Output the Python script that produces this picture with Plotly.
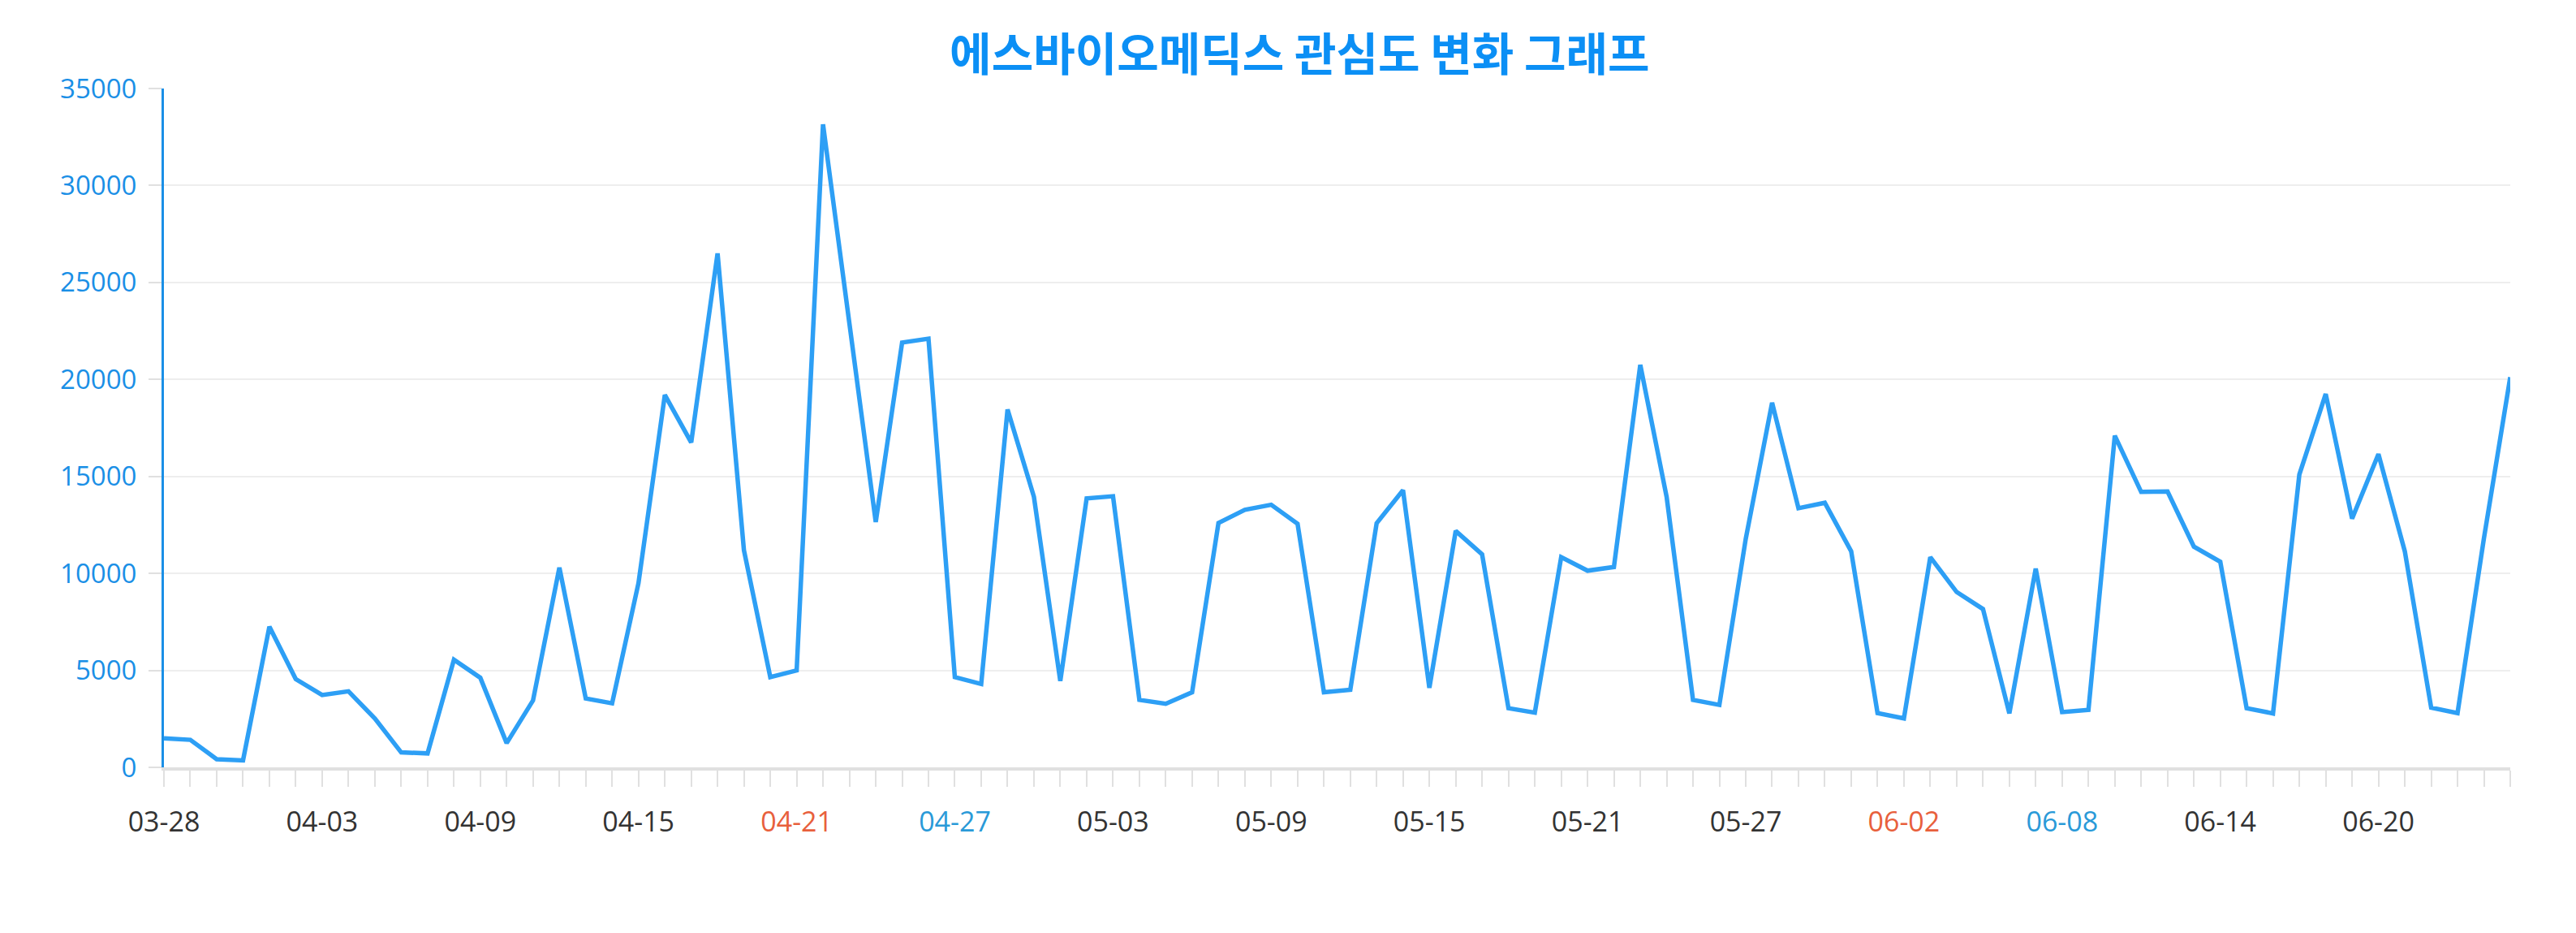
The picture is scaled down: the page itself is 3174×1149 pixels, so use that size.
import plotly.graph_objects as go
import pandas as pd

# daily dates shown on the x axis (03-28 .. 06-25)
dates = [d.strftime('%m-%d') for d in pd.date_range('2024-03-28', '2024-06-25')]

# interest values
values = [
    1500, 1420, 420, 360, 7250, 4550, 3730, 3920, 2520, 770,
    720, 5550, 4620, 1250, 3450, 10300, 3550, 3300, 9500, 19200,
    16750, 26500, 11200, 4650, 5000, 33150, 22900, 12650, 21900, 22100,
    4650, 4300, 18450, 13950, 4450, 13870, 13980, 3480, 3280, 3870,
    12600, 13280, 13540, 12560, 3870, 4000, 12590, 14290, 4100, 12190,
    10980, 3050, 2820, 10840, 10140, 10330, 20750, 13940, 3480, 3220,
    11780, 18800, 13360, 13640, 11140, 2800, 2520, 10840, 9040, 8160,
    2780, 10250, 2850, 2960, 17100, 14200, 14220, 11380, 10600, 3050,
    2780, 15100, 19250, 12820, 16150, 11140, 3080, 2800, 11800, 20120,
]

# labelled ticks and their colours (weekend / holiday highlights)
label_every = 6
label_colors = {'04-21': '#e8603c', '06-02': '#e8603c',
                '04-27': '#2a9ad8', '06-08': '#2a9ad8'}
default_label_color = '#333333'

title = '에스바이오메딕스 관심도 변화 그래프'


def tickText(dates):
    texts = []
    for i, d in enumerate(dates):
        if i % label_every == 0:
            color = label_colors.get(d, default_label_color)
            texts.append('<span style="color:%s">%s</span>' % (color, d))
        else:
            texts.append('')
    return texts


fig = go.Figure()
fig.add_trace(go.Scatter(
    x=dates, y=values, mode='lines',
    line=dict(color='#2d9ff5', width=5.5),
    hoverinfo='x+y',
))

fig.update_layout(
    width=3174, height=1149,
    paper_bgcolor='white', plot_bgcolor='white',
    margin=dict(l=194, r=89, t=101, b=212),
    showlegend=False,
    font=dict(family='Open Sans, Noto Sans CJK KR', size=32, color='#333333'),
    title=dict(text='<b>%s</b>' % title, x=0.502, xanchor='center',
               y=1 - 59 / 1149, yanchor='middle',
               font=dict(family='Noto Sans CJK KR', size=56, color='#0b8ff5')),
)

fig.update_xaxes(
    type='category', range=[0, len(dates) - 1],
    tickvals=dates, ticktext=tickText(dates),
    ticks='outside', ticklen=20, tickwidth=2, tickcolor='#e0e0e0',
    showline=True, linecolor='#e0e0e0', linewidth=4,
    showgrid=False, zeroline=False,
    tickfont=dict(size=34, color=default_label_color),
    ticklabelstandoff=14,
)

fig.update_yaxes(
    range=[0, 35000], dtick=5000, tickformat='d',
    showgrid=True, gridcolor='#eeeeee', gridwidth=2,
    zeroline=False,
    showline=True, linecolor='#1a8fe6', linewidth=3,
    ticks='outside', ticklen=16, tickwidth=2, tickcolor='#e0e0e0',
    tickfont=dict(size=33, color='#1a8fe6'),
    ticklabelstandoff=8,
)

fig.write_html('out.html')
